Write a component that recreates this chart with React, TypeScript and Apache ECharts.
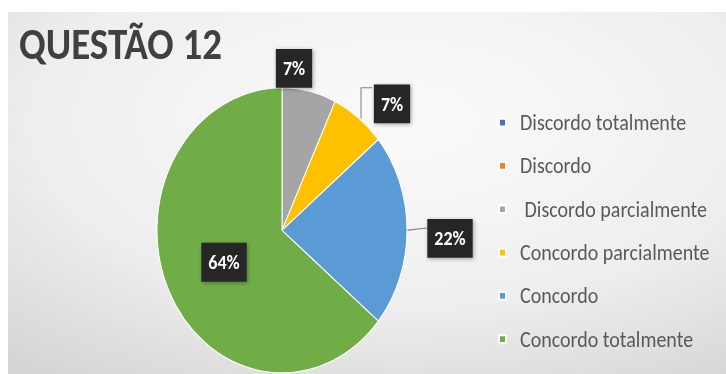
import React, { useEffect, useRef } from "react";
import * as echarts from "echarts";

const chartTitle = "QUESTÃO 12";
const categories = [
  "Discordo totalmente",
  "Discordo",
  " Discordo parcialmente",
  "Concordo parcialmente",
  "Concordo",
  "Concordo totalmente",
];
const values = [0, 0, 7, 7, 22, 64];
const colors = ["#4472C4", "#ED7D31", "#A5A5A5", "#FFC000", "#5B9BD5", "#70AD47"];

const W = 726;
const H = 374;
const SY = 1.14;
const IH = Math.round(H / SY);

const labelPos: Record<number, { x: number; y: number; line?: number[][] }> = {
  2: { x: 294, y: 60 },
  3: { x: 392, y: 91, line: [[361, 104], [361, 77], [372, 77]] },
  4: { x: 450, y: 209, line: [[406, 202], [427, 200]] },
  5: { x: 224, y: 230 },
};

const FONT = "Carlito, Lato, 'Open Sans', sans-serif";

export default function App() {
  const ref = useRef<HTMLDivElement>(null);
  useEffect(() => {
    if (!ref.current) return;
    const chart = echarts.init(ref.current, undefined, { renderer: "svg" });
    chart.setOption({
      animation: false,
      backgroundColor: "#ffffff",
      graphic: [
        {
          type: "rect",
          z: -10,
          silent: true,
          shape: { x: 8, y: 10.5, width: W - 8, height: IH - 10.5 },
          style: {
            fill: new echarts.graphic.RadialGradient(0.55, 0.3, 0.85, [
              { offset: 0, color: "#fbfbfb" },
              { offset: 0.6, color: "#eeeeee" },
              { offset: 1, color: "#d6d6d6" },
            ]),
          },
        },
      ],
      title: {
        text: chartTitle,
        left: 19,
        top: 18.5,
        padding: 0,
        textStyle: { fontFamily: FONT, fontSize: 39, fontWeight: "bold", color: "#404040" },
      },
      legend: {
        orient: "vertical",
        left: 498,
        top: 97.5,
        padding: 0,
        itemWidth: 7,
        itemHeight: 7,
        itemGap: 18,
        icon: "rect",
        data: categories,
        textStyle: {
          fontFamily: FONT,
          fontSize: 20,
          lineHeight: 20,
          color: "#595959",
          padding: [0, 0, 0, 9],
        },
      },
      series: [
        {
          type: "pie",
          center: [282, 202],
          radius: 125,
          startAngle: 90,
          clockwise: true,
          color: colors,
          itemStyle: { borderColor: "#ffffff", borderWidth: 1 },
          data: categories.map((name, i) => ({
            name,
            value: values[i],
            label: { show: values[i] > 0 },
            labelLine: { show: !!(labelPos[i] && labelPos[i].line) },
          })),
          label: {
            position: "outside",
            formatter: "{c}%",
            fontFamily: FONT,
            fontSize: 18,
            fontWeight: "bold",
            color: "#ffffff",
            lineHeight: 18,
            backgroundColor: "#262626",
            padding: [8, 7],
            shadowBlur: 4,
            shadowColor: "rgba(0,0,0,0.35)",
            shadowOffsetX: 1,
            shadowOffsetY: 1,
          },
          labelLine: { lineStyle: { color: "#7f7f7f", width: 1 } },
          labelLayout: (p: any) => {
            const lp = labelPos[p.dataIndex];
            if (!lp) return {};
            const out: any = { x: lp.x, y: lp.y, align: "center", verticalAlign: "middle" };
            if (lp.line) out.labelLinePoints = lp.line;
            return out;
          },
        },
      ],
    });
    return () => chart.dispose();
  }, []);
  return (
    <div style={{ position: "fixed", left: 0, top: 0, width: W, height: H, overflow: "hidden", background: "#fff" }}>
      <div
        ref={ref}
        style={{ width: W, height: IH, transform: `scaleY(${H / IH})`, transformOrigin: "0 0" }}
      />
    </div>
  );
}
